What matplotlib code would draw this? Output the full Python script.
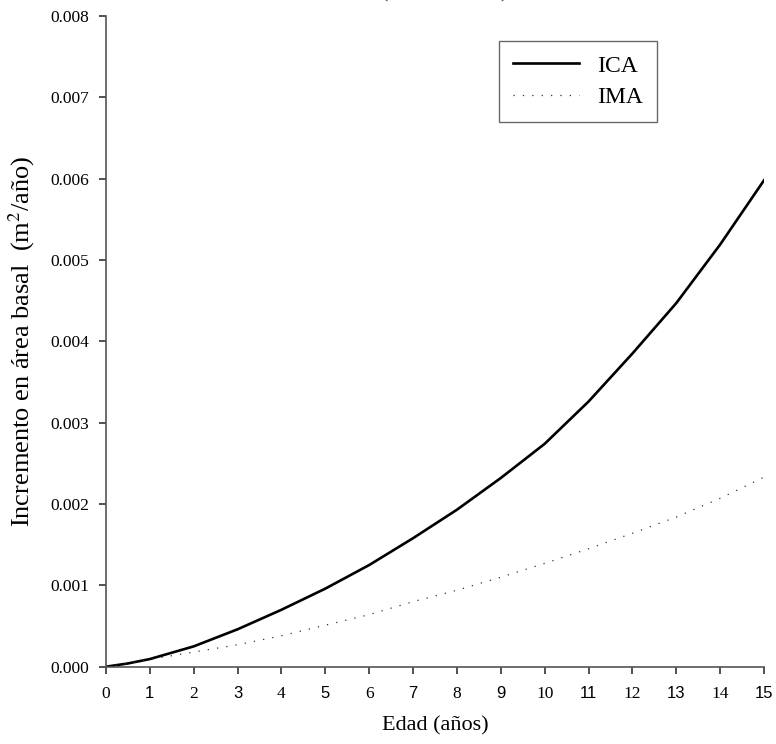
import numpy as np
import matplotlib
matplotlib.use("Agg")
import matplotlib.pyplot as plt

# Edad (años)
edad = [0, 0.5, 1, 2, 3, 4, 5, 6, 7, 8, 9, 10, 11, 12, 13, 14, 15]
# Incremento corriente anual (ICA), m2/año
ica = [0.0, 0.00004, 0.000094, 0.00025, 0.00046, 0.00070, 0.00096, 0.00125, 0.00158,
       0.00193, 0.00232, 0.00274, 0.00326, 0.00385, 0.00447, 0.00519, 0.00598]
# Incremento medio anual (IMA), m2/año
ima = [0.0, 0.00004, 0.000090, 0.00018, 0.00027, 0.00038, 0.00051, 0.00064, 0.00080,
       0.00094, 0.00110, 0.00127, 0.00145, 0.00164, 0.00184, 0.00207, 0.00233]

x_ticks = list(range(0, 16))
y_ticks = [0.000, 0.001, 0.002, 0.003, 0.004, 0.005, 0.006, 0.007, 0.008]

serif = ['Liberation Serif', 'DejaVu Serif']
sans = ['Liberation Sans', 'DejaVu Sans']
plt.rcParams['font.family'] = serif
plt.rcParams['mathtext.fontset'] = 'stix'

fig = plt.figure(figsize=(7.76, 7.44), dpi=100)
ax = fig.add_axes([106 / 776, 1 - 666.7 / 744, 658 / 776, 650.7 / 744])

ax.plot(edad, ica, color='black', lw=1.9, label='ICA')
ax.plot(edad, ima, color='#333333', lw=0.9, linestyle=(0, (1, 6.5)), label='IMA')

ax.set_xlim(0, 15)
ax.set_ylim(0, 0.008)
ax.set_xticks(x_ticks)
ax.set_yticks(y_ticks)
ax.set_yticklabels([f'{v:.3f}' for v in y_ticks], fontsize=12.5)
ax.set_xticklabels([str(v) for v in x_ticks])
# the source mixes fonts on the x tick labels: odd ones sans, even ones serif
for i, lab in enumerate(ax.get_xticklabels()):
    if i % 2 == 1:
        lab.set_family(sans)
        lab.set_fontsize(12)
    else:
        lab.set_family(serif)
        lab.set_fontsize(12.5)

for side in ['top', 'right']:
    ax.spines[side].set_visible(False)
for side in ['left', 'bottom']:
    ax.spines[side].set_color('#555555')
    ax.spines[side].set_linewidth(1.2)
ax.tick_params(axis='both', direction='out', length=5, width=1.2, color='#333333')
ax.tick_params(axis='y', pad=7)
ax.tick_params(axis='x', pad=9)

ax.set_xlabel('Edad (años)', fontsize=16, labelpad=10)
ax.set_ylabel('Incremento en área basal  (m$^{2}$/año)', fontsize=19, labelpad=10)

leg = ax.legend(loc='upper right', bbox_to_anchor=((657 - 106) / 658, 1 - (41 - 16) / 650.7),
                bbox_transform=ax.transAxes, fontsize=17, frameon=True, fancybox=False,
                handlelength=2.8, handletextpad=0.75, borderpad=0.6, labelspacing=0.42,
                borderaxespad=0)
leg.get_frame().set_edgecolor('#444444')
leg.get_frame().set_linewidth(1.0)

# title mostly cut off at the top edge of the source image
fig.text(0.573, 1.0 + 3 / 744, '(                    )', ha='center', va='baseline',
         fontsize=16, color='#333333')

fig.savefig('out.png', dpi=100)
